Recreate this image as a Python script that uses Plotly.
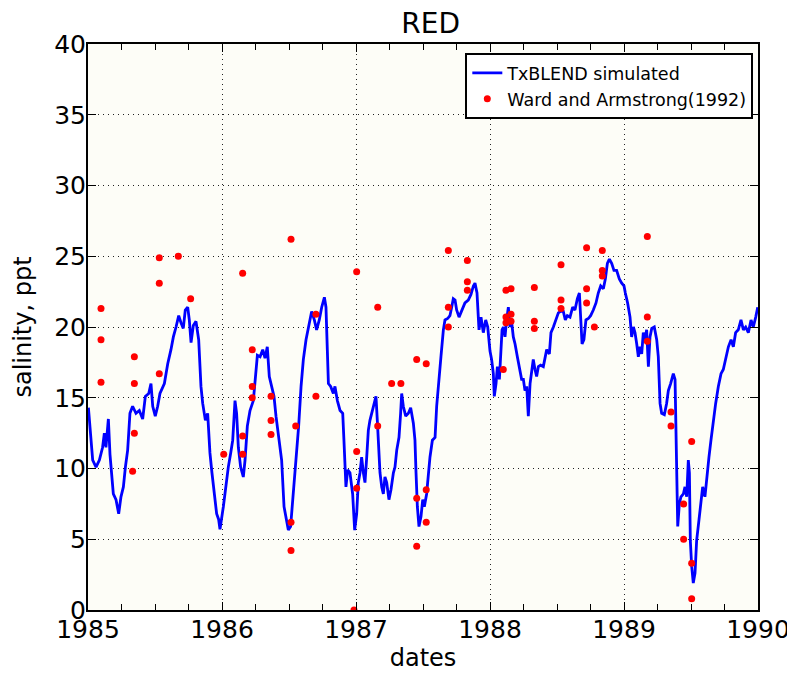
import plotly.graph_objects as go

# simulated salinity (TxBLEND), decimal years
sim_year = [
    1985.003, 1985.022, 1985.035, 1985.060, 1985.085, 1985.109, 1985.122, 1985.134, 1985.152, 1985.164,
    1985.177, 1985.189, 1985.209, 1985.229, 1985.246, 1985.264, 1985.279, 1985.296, 1985.313, 1985.333,
    1985.358, 1985.383, 1985.408, 1985.428, 1985.453, 1985.470, 1985.483, 1985.502, 1985.520, 1985.537,
    1985.570, 1985.595, 1985.619, 1985.637, 1985.657, 1985.677, 1985.694, 1985.711, 1985.726, 1985.744,
    1985.756, 1985.769, 1985.786, 1985.806, 1985.826, 1985.843, 1985.856, 1985.876, 1985.893, 1985.910,
    1985.925, 1985.943, 1985.960, 1985.975, 1985.985,
    1986.010, 1986.030, 1986.047, 1986.065, 1986.080, 1986.097, 1986.109, 1986.122, 1986.139, 1986.159,
    1986.172, 1986.189, 1986.209, 1986.234, 1986.246, 1986.264, 1986.284, 1986.304, 1986.321, 1986.338,
    1986.353, 1986.371, 1986.388, 1986.403, 1986.428, 1986.445, 1986.463, 1986.478, 1986.495, 1986.512,
    1986.532, 1986.552, 1986.572, 1986.590, 1986.607, 1986.627, 1986.644, 1986.669, 1986.689, 1986.706,
    1986.726, 1986.744, 1986.764, 1986.776, 1986.786, 1986.794, 1986.811, 1986.831, 1986.843, 1986.861,
    1986.881, 1986.901, 1986.910, 1986.925, 1986.938, 1986.955, 1986.975, 1986.990,
    1987.005, 1987.017, 1987.030, 1987.042, 1987.055, 1987.067, 1987.080, 1987.092, 1987.104, 1987.122,
    1987.137, 1987.149, 1987.159, 1987.167, 1987.179, 1987.192, 1987.204, 1987.216, 1987.229, 1987.246,
    1987.261, 1987.279, 1987.291, 1987.304, 1987.321, 1987.333, 1987.341, 1987.353, 1987.371, 1987.391,
    1987.408, 1987.428, 1987.440, 1987.448, 1987.458, 1987.470, 1987.485, 1987.498, 1987.510, 1987.527,
    1987.540, 1987.552, 1987.570, 1987.590, 1987.602, 1987.619, 1987.634, 1987.652, 1987.664, 1987.684,
    1987.701, 1987.714, 1987.726, 1987.739, 1987.751, 1987.769, 1987.789, 1987.813, 1987.838, 1987.858,
    1987.876, 1987.888, 1987.903, 1987.918, 1987.933, 1987.950, 1987.968, 1987.983,
    1988.000, 1988.012, 1988.025, 1988.032, 1988.045, 1988.055, 1988.070, 1988.080, 1988.090, 1988.100,
    1988.112, 1988.124, 1988.137, 1988.149, 1988.162, 1988.174, 1988.187, 1988.204, 1988.219, 1988.236,
    1988.249, 1988.261, 1988.274, 1988.286, 1988.299, 1988.311, 1988.323, 1988.336, 1988.348, 1988.361,
    1988.378, 1988.398, 1988.410, 1988.423, 1988.443, 1988.455, 1988.473, 1988.493, 1988.510, 1988.527,
    1988.547, 1988.562, 1988.577, 1988.597, 1988.617, 1988.634, 1988.652, 1988.667, 1988.677, 1988.687,
    1988.701, 1988.716, 1988.734, 1988.751, 1988.771, 1988.791, 1988.808, 1988.826, 1988.846, 1988.861,
    1988.876, 1988.891, 1988.908, 1988.925, 1988.945, 1988.965, 1988.983,
    1989.000, 1989.010, 1989.027, 1989.045, 1989.057, 1989.070, 1989.082, 1989.095, 1989.107, 1989.119,
    1989.132, 1989.144, 1989.157, 1989.169, 1989.182, 1989.194, 1989.207, 1989.226, 1989.244, 1989.256,
    1989.269, 1989.281, 1989.301, 1989.318, 1989.331, 1989.348, 1989.368, 1989.381, 1989.388, 1989.393,
    1989.401, 1989.413, 1989.425, 1989.443, 1989.455, 1989.468, 1989.480, 1989.488, 1989.495, 1989.505,
    1989.517, 1989.530, 1989.542, 1989.560, 1989.575, 1989.587, 1989.604, 1989.617, 1989.634, 1989.649,
    1989.667, 1989.684, 1989.704, 1989.724, 1989.741, 1989.759, 1989.779, 1989.799, 1989.816, 1989.833,
    1989.853, 1989.873, 1989.891, 1989.908, 1989.928, 1989.948, 1989.965, 1989.983, 1989.998,
]
sim_salinity = [
    14.3, 11.8, 10.6, 10.1, 10.6, 11.5, 12.5, 11.5, 13.5, 11.0,
    9.7, 8.2, 7.8, 6.8, 8.0, 8.7, 10.1, 11.3, 13.9, 14.4,
    13.9, 14.1, 13.5, 15.1, 15.3, 16.0, 14.4, 13.7, 14.4, 15.3,
    16.0, 17.4, 18.4, 19.3, 20.0, 20.8, 20.3, 19.9, 21.2, 21.4,
    20.5, 18.9, 20.1, 20.4, 19.1, 15.8, 14.6, 13.4, 13.9, 11.1,
    9.7, 8.2, 6.8, 6.4, 5.7,
    7.3, 9.0, 10.1, 11.1, 12.0, 14.8, 13.9, 11.5, 10.1, 9.4,
    10.6, 13.0, 14.1, 14.8, 16.3, 18.0, 17.9, 18.4, 17.8, 18.6,
    16.5, 15.8, 15.1, 13.7, 12.0, 10.6, 7.3, 6.4, 5.65, 5.9,
    8.2, 11.1, 13.0, 15.8, 17.7, 19.1, 20.0, 21.1, 20.5, 19.8,
    20.5, 21.4, 22.1, 21.4, 18.4, 16.0, 15.8, 15.3, 15.8, 14.8,
    14.1, 13.9, 12.0, 8.7, 9.9, 9.7, 8.2, 5.65,
    6.8, 9.0, 9.7, 10.8, 9.7, 9.0, 10.8, 12.7, 13.4, 14.1,
    14.6, 15.1, 13.4, 11.5, 9.7, 8.7, 8.2, 9.4, 9.0, 7.8,
    8.5, 9.7, 10.1, 11.3, 12.2, 13.9, 15.3, 14.4, 13.7, 13.9,
    14.3, 13.2, 12.0, 9.7, 7.3, 5.9, 6.6, 7.8, 7.3, 8.2,
    9.7, 10.8, 12.0, 12.2, 14.4, 16.0, 17.9, 19.8, 20.5, 20.6,
    20.8, 21.4, 22.0, 21.9, 21.2, 20.7, 21.2, 21.7, 21.9, 22.3,
    22.9, 23.1, 22.4, 19.8, 20.7, 19.6, 20.5, 20.0,
    18.3, 17.7, 16.7, 15.1, 16.0, 17.2, 16.3, 18.4, 19.8, 20.0,
    19.3, 20.5, 21.4, 20.0, 20.3, 19.3, 18.8, 17.9, 17.0, 16.3,
    16.3, 15.5, 15.8, 13.7, 16.0, 17.0, 17.7, 17.0, 16.5, 17.2,
    17.3, 17.2, 17.7, 18.4, 18.1, 19.6, 20.0, 20.5, 21.0, 21.1,
    21.1, 20.5, 20.8, 20.7, 21.4, 21.2, 22.0, 22.4, 20.3, 18.8,
    19.1, 20.5, 20.6, 20.8, 21.2, 21.7, 22.4, 22.9, 22.7, 23.4,
    24.5, 24.8, 24.5, 24.0, 24.0, 23.4, 23.1,
    22.9, 22.4, 21.7, 20.7, 19.3, 20.0, 19.6, 18.8, 17.9, 18.6,
    18.1, 19.6, 19.1, 19.8, 17.2, 19.3, 19.9, 20.0, 19.1, 17.9,
    14.6, 13.9, 13.8, 14.6, 15.5, 16.0, 16.7, 16.3, 13.0, 8.5,
    5.9, 7.5, 8.0, 8.2, 8.7, 8.0, 10.6, 9.7, 4.9, 3.1,
    1.9, 2.6, 4.9, 6.4, 7.5, 8.7, 8.0, 9.4, 10.8, 12.0,
    13.4, 14.6, 15.8, 16.7, 17.0, 17.7, 18.6, 19.1, 18.6, 19.6,
    19.8, 20.5, 19.8, 20.0, 19.6, 20.5, 20.0, 20.7, 21.4,
]

# field observations, Ward and Armstrong (1992)
obs_year = [
    1985.097, 1985.097, 1985.097, 1985.333, 1985.346, 1985.346, 1985.346,
    1985.532, 1985.532, 1985.532, 1985.674, 1985.766,
    1986.013, 1986.154, 1986.154, 1986.154, 1986.226, 1986.226, 1986.226,
    1986.366, 1986.366, 1986.366, 1986.515, 1986.515, 1986.515, 1986.550,
    1986.701, 1986.701, 1986.985,
    1987.005, 1987.005, 1987.005, 1987.162, 1987.162, 1987.266, 1987.335,
    1987.453, 1987.453, 1987.453, 1987.524, 1987.524, 1987.524,
    1987.689, 1987.689, 1987.689, 1987.831, 1987.831, 1987.831,
    1988.099, 1988.119, 1988.119, 1988.119, 1988.157, 1988.157, 1988.157,
    1988.331, 1988.331, 1988.331, 1988.530, 1988.530, 1988.530,
    1988.721, 1988.721, 1988.721, 1988.779, 1988.838, 1988.838, 1988.838,
    1989.174, 1989.174, 1989.174, 1989.351, 1989.351,
    1989.445, 1989.445, 1989.505, 1989.505, 1989.505,
]
obs_salinity = [
    21.3, 19.1, 16.1, 9.8, 17.9, 16.0, 12.5,
    24.9, 23.1, 16.7, 25.0, 22.0,
    11.0, 23.8, 12.3, 11.0, 18.4, 15.8, 15.0,
    15.1, 13.4, 12.4, 26.2, 6.2, 4.2, 13.0,
    20.9, 15.1, 0.0,
    23.9, 11.2, 8.6, 21.4, 13.0, 16.0, 16.0,
    17.7, 7.9, 4.5, 17.4, 8.5, 6.2,
    25.4, 21.4, 20.0, 24.7, 23.2, 22.6,
    17.0, 22.6, 20.7, 20.3, 22.7, 20.9, 20.4,
    22.8, 20.4, 19.9, 24.4, 21.9, 21.3,
    25.6, 22.7, 21.7, 20.0, 25.4, 24.0, 23.6,
    26.4, 20.7, 19.0, 14.0, 13.0,
    7.5, 5.0, 11.9, 3.3, 0.8,
]

font = "DejaVu Sans"

fig = go.Figure()
fig.add_trace(go.Scatter(
    x=sim_year, y=sim_salinity, mode="lines", name="TxBLEND simulated",
    line=dict(color="#0000ff", width=2.8),
))
fig.add_trace(go.Scatter(
    x=obs_year, y=obs_salinity, mode="markers", name="Ward and Armstrong(1992)",
    marker=dict(color="#ff0000", size=7),
))

axis_common = dict(
    showline=True, linecolor="black", linewidth=2, mirror="ticks",
    ticks="inside", ticklen=8, tickcolor="black", tickwidth=1,
    showgrid=True, gridcolor="#222222", gridwidth=1, griddash="1px,4px",
    zeroline=False, tickfont=dict(size=25, color="black", family=font),
    automargin=False,
)
fig.update_xaxes(
    **axis_common, range=[1985, 1990], tick0=1985, dtick=1, tickformat="d",
    ticklabelstandoff=-4,
    minor=dict(dtick=0.25, tick0=1985, ticks="inside", ticklen=6,
               tickcolor="black", tickwidth=1, showgrid=False),
    title=dict(text="dates", font=dict(size=24, color="black", family=font), standoff=6),
)
fig.update_yaxes(
    **axis_common, range=[0, 40], dtick=5, ticklabelstandoff=-5,
    title=dict(text="salinity, ppt", font=dict(size=24, color="black", family=font), standoff=16),
)
# the page body adds an 8px offset, so the figure is 8px smaller than the window
fig.update_layout(
    width=787, height=665,
    margin=dict(l=80, r=37, t=36, b=63),
    paper_bgcolor="white", plot_bgcolor="#fdfdf7",
    title=dict(text="RED", x=0.537, xanchor="center", y=0.977, yanchor="middle",
               font=dict(size=28, color="black", family=font), automargin=False),
    font=dict(family=font, color="black"),
    legend=dict(
        x=0.993, xanchor="right", y=0.984, yanchor="top",
        bgcolor="white", bordercolor="black", borderwidth=2,
        font=dict(size=17.5, color="black", family=font), itemwidth=30,
    ),
)

fig.write_html("out.html")
